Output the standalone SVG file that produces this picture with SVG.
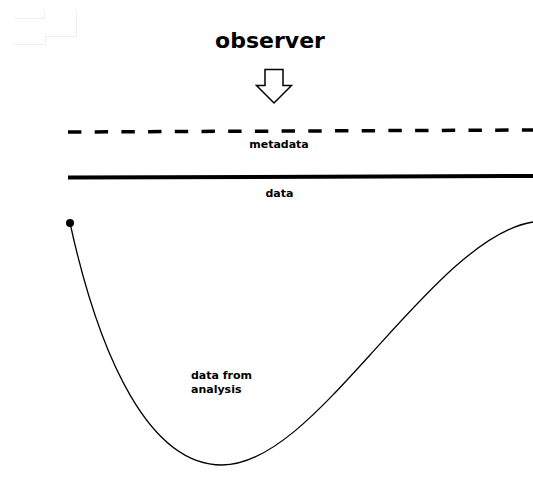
<svg xmlns="http://www.w3.org/2000/svg" width="533" height="492" viewBox="0 0 533 492">
<style>
.t{font-family:"DejaVu Sans",sans-serif;font-weight:bold;fill:#000}
.faint{fill:none;stroke:#eeeeee;stroke-width:1}
</style>
<rect width="533" height="492" fill="#fff"/>
<g id="faint-marks">
<path class="faint" d="M14,18.5 H44.5 V10 M45,36.5 H76.5 V10 M14,44.5 H45.5 V36"/>
</g>
<g id="observer">
<text class="t" x="270" y="48" font-size="22" text-anchor="middle">observer</text>
</g>
<g id="arrow">
<path d="M265,69.5 H283 V85.5 H291.5 L274,103 L256.5,85.5 H265 Z" fill="#fff" stroke="#000" stroke-width="1.5"/>
</g>
<g id="metadata">
<line x1="68" y1="132" x2="533" y2="130" stroke="#000" stroke-width="3.5" stroke-dasharray="13.4 13.3"/>
<text class="t" x="279" y="148" font-size="11" text-anchor="middle">metadata</text>
</g>
<g id="data">
<line x1="68" y1="177.5" x2="533" y2="176" stroke="#000" stroke-width="4"/>
<text class="t" x="279.5" y="197" font-size="11" text-anchor="middle">data</text>
</g>
<g id="analysis">
<circle cx="70" cy="223" r="4" fill="#000"/>
<path d="M70,223 C100,360 150,465 222,465 C270,465 320,410 370,355 C420,300 480,230 533,222" fill="none" stroke="#000" stroke-width="1.3"/>
<text class="t" font-size="11"><tspan x="191" y="379">data from</tspan><tspan x="191" y="393">analysis</tspan></text>
</g>
</svg>
